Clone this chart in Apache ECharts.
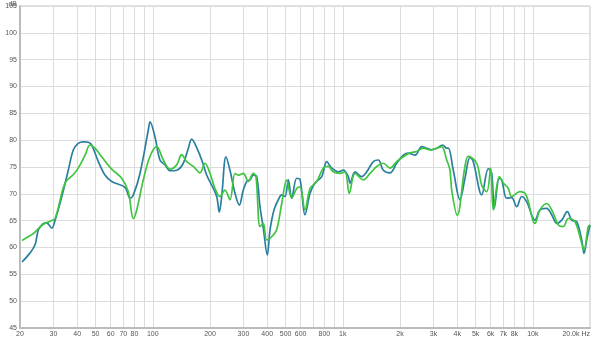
<!DOCTYPE html>
<html>
<head>
<meta charset="utf-8">
<script src="https://cdn.jsdelivr.net/npm/echarts@6/dist/echarts.min.js"></script>
<style>html,body{margin:0;padding:0;background:#fff}#c{width:600px;height:339px}</style>
</head>
<body>
<div id="c"></div>
<script>
var freqBlue = [20.5,22.6,24.0,25.0,26.4,27.6,29.4,30.6,33.2,35.9,38.2,40.5,43.1,45.8,47.7,51.7,56.0,60.8,71.4,75.9,79.0,85.6,94.7,96.7,102.7,109.1,116.0,123.2,133.6,144.7,153.8,160.2,170.2,180.9,192.1,204.2,216.9,223.8,230.4,242.8,254.8,270.8,285.3,299.4,312.2,324.8,338.0,352.2,366.6,381.6,400.6,414.0,434.4,457.6,477.0,496.4,516.6,538.4,572.0,595.4,632.5,672.2,714.0,774.4,822.8,874.2,947.2,1006,1069,1091,1160,1257,1336,1447,1538,1634,1772,1921,2082,2212,2399,2602,2764,2936,3122,3356,3523,3591,3816,4137,4395,4671,4862,5383,5832,6076,6270,6663,6860,7290,7743,8226,8740,9288,10270,10910,11836,12572,13360,14196,15190,16022,17022,18090,18598,19216,20000];
var dbBlue = [57.3,59.0,60.5,63.3,64.4,64.6,63.6,65.1,69.5,74.4,78.2,79.4,79.7,79.6,79.1,76.0,73.5,72.3,71.2,69.2,69.8,73.8,81.9,83.4,80.6,76.3,75.4,74.3,74.4,75.7,78.5,80.2,78.6,76.3,73.5,71.6,69.5,66.6,69.5,76.9,74.4,70.1,67.9,70.7,72.3,72.6,73.5,73.2,67.6,63.6,58.6,63.3,67.0,68.9,69.8,69.5,72.6,69.2,72.9,72.7,66.1,70.1,72.0,73.2,76.0,74.8,74.1,74.4,73.2,72.0,74.1,73.2,74.1,76.0,76.3,74.4,73.9,75.7,77.2,77.6,77.2,78.8,78.5,78.2,78.5,79.1,78.5,78.5,74.4,68.9,72.9,76.8,76.0,69.8,74.7,73.8,67.3,72.9,72.6,69.2,69.3,67.6,69.5,68.5,65.1,67.0,67.3,66.1,64.5,65.1,66.7,65.1,64.8,61.4,58.9,61.4,64.2];
var freqGreen = [20.5,22.1,23.5,25.5,27.1,28.8,30.6,34.5,38.2,40.5,44.0,46.7,49.6,53.8,60.8,68.6,74.3,79.0,82.3,89.1,96.7,104.8,113.6,123.2,133.6,141.9,150.8,163.4,177.2,188.2,200,212.5,225.7,239.8,254.8,270.8,281.9,299.4,318.2,338.0,349.2,366.6,381.6,397.6,422.4,448.8,477.0,506.6,538.4,572.0,595.4,632.5,672.2,729.0,789.6,839.0,891.4,966.8,1027,1082,1160,1282,1391,1508,1634,1772,1921,2082,2257,2448,2652,2877,3122,3316,3523,3666,3742,4000,4395,4576,5066,5383,5720,6004,6196,6663,6996,7430,7743,8561,9210,10270,10910,11836,12820,13624,14472,15376,16680,18090,18598,19594,20000];
var dbGreen = [61.3,62.0,62.6,63.8,64.5,64.9,65.4,72.0,73.6,74.8,77.2,79.1,78.5,76.9,74.6,72.9,70.4,65.4,67.0,72.6,77.0,78.8,76.3,74.6,75.4,77.3,76.0,75.1,73.9,75.7,73.8,71.0,69.5,70.7,68.9,73.8,73.5,73.8,72.3,73.8,73.2,63.9,64.5,61.4,62.0,63.3,68.2,72.6,69.2,71.0,71.3,67.0,71.0,72.3,74.8,75.1,74.1,73.8,74.1,70.1,73.8,72.6,73.8,75.1,75.7,74.8,76.0,76.9,77.6,77.9,78.5,78.2,78.5,78.8,76.3,74.4,70.7,66.0,75.1,77.0,75.7,71.6,70.4,74.8,67.0,73.2,72.0,71.0,69.5,70.4,69.8,64.5,67.0,68.2,66.4,64.2,63.9,65.4,64.8,60.8,59.5,63.9,64.2];
var gridFreqs = [20,30,40,50,60,70,80,90,100,200,300,400,500,600,700,800,900,1000,2000,3000,4000,5000,6000,7000,8000,9000,10000];
var labelFreqs = [20,30,40,50,60,70,80,100,200,300,400,500,600,800,1000,2000,3000,4000,5000,6000,7000,8000,10000,20000];
var yTicks = [45,50,55,60,65,70,75,80,85,90,95,100,105];

function pairs(f, d) { return f.map(function (v, i) { return [v, d[i]]; }); }
function fmt(v) {
  v = Math.round(v);
  if (v >= 20000) return '20.0k Hz';
  if (v >= 1000) return (v / 1000) + 'k';
  return String(v);
}
var chart = echarts.init(document.getElementById('c'), null, {renderer: 'canvas'});
chart.setOption({
  animation: false,
  backgroundColor: '#ffffff',
  grid: {left: 20, right: 10, top: 6, bottom: 11, show: true, borderColor: '#c4c4c4', borderWidth: 1, outerBoundsMode: 'none', containLabel: false},
  xAxis: {
    type: 'log', logBase: 10, min: 20, max: 20000,
    axisLine: {show: true, lineStyle: {color: '#bbbbbb', width: 2}},
    axisTick: {show: false, customValues: gridFreqs},
    splitLine: {show: true, lineStyle: {color: '#dcdcdc', width: 1}},
    axisLabel: {customValues: labelFreqs, formatter: fmt, fontSize: 7, color: '#555', margin: 3, fontFamily: 'Liberation Sans', hideOverlap: false, alignMaxLabel: 'right'}
  },
  yAxis: {
    type: 'value', min: 45, max: 105, interval: 5,
    name: 'dB', nameLocation: 'end', nameGap: -2, nameMoveOverlap: false,
    nameTextStyle: {fontSize: 7, lineHeight: 7, color: '#555', align: 'right', verticalAlign: 'bottom', fontFamily: 'Liberation Sans', padding: [0, 3, 0, 0]},
    axisLine: {show: true, lineStyle: {color: '#bbbbbb', width: 2}},
    axisTick: {show: false},
    splitLine: {show: true, lineStyle: {color: '#dcdcdc', width: 1}},
    axisLabel: {fontSize: 7, color: '#555', margin: 3, fontFamily: 'Liberation Sans'}
  },
  series: [
    {type: 'line', data: pairs(freqBlue, dbBlue), showSymbol: false, smooth: 0.35, lineStyle: {color: '#2a7fa0', width: 1.7}, itemStyle: {color: '#2a7fa0'}},
    {type: 'line', data: pairs(freqGreen, dbGreen), showSymbol: false, smooth: 0.35, lineStyle: {color: '#3fc43f', width: 1.7}, itemStyle: {color: '#3fc43f'}}
  ]
});
</script>
</body>
</html>
